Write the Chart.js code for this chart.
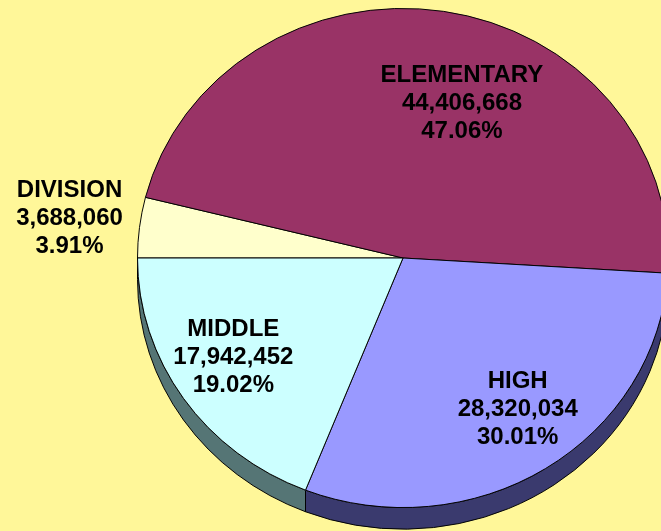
<!DOCTYPE html>
<html>
<head>
<meta charset="utf-8">
<script src="https://cdn.jsdelivr.net/npm/chart.js"></script>
<style>
  html, body { margin: 0; padding: 0; }
  #wrap { position: relative; width: 661px; height: 531px; overflow: hidden; background: #FFF799; }
  #pie { position: absolute; left: 0px; top: -12px; }
</style>
</head>
<body>
<div id="wrap"><canvas id="pie" width="673" height="560"></canvas></div>
<script>
// data
const categories = ['DIVISION', 'ELEMENTARY', 'HIGH', 'MIDDLE'];
const amounts = [3688060, 44406668, 28320034, 17942452];

const topColors = ['#FFFFCC', '#993366', '#9999FF', '#CCFFFF'];
const sideColors = ['#80806A', '#4D1A33', '#3A3A6E', '#557575'];

// squash the pie into an ellipse and give it a little 3D rim
const pie3d = {
    id: 'pie3d',
    beforeDatasetsDraw(chart, args, opts) {
        const ctx = chart.ctx
        const arcs = chart.getDatasetMeta(0).data
        const cx = arcs[0].x, cy = arcs[0].y
        ctx.save()
        ctx.translate(cx, cy)
        ctx.scale(1, opts.squash)
        ctx.translate(-cx, -cy)
        arcs.forEach((arc, i) => {
            for (let k = 0; k < 3; k++) {
                const lo = k * 2 * Math.PI, hi = lo + Math.PI
                const a0 = Math.max(arc.startAngle, lo), a1 = Math.min(arc.endAngle, hi)
                if (a1 <= a0) continue
                ctx.beginPath()
                ctx.arc(cx, cy, arc.outerRadius, a0, a1)
                ctx.arc(cx, cy + opts.depth, arc.outerRadius, a1, a0, true)
                ctx.closePath()
                ctx.fillStyle = sideColors[i]
                ctx.fill()
                ctx.strokeStyle = '#000'
                ctx.lineWidth = 1
                ctx.stroke()
            }
        })
    },
    afterDatasetsDraw(chart) {
        chart.ctx.restore()
    }
}

// name / amount / percent labels
const sliceLabels = {
    id: 'sliceLabels',
    afterDraw(chart, args, opts) {
        const ctx = chart.ctx
        const total = amounts.reduce((a, b) => a + b, 0)
        ctx.save()
        ctx.font = 'bold 24px "Liberation Sans", Arial, sans-serif'
        ctx.fillStyle = '#000'
        ctx.textAlign = 'center'
        ctx.textBaseline = 'middle'
        chart.getDatasetMeta(0).data.forEach((arc, i) => {
            const r = arc.outerRadius
            const x = arc.x + opts.offsets[i][0] * r
            const y = arc.y + opts.offsets[i][1] * r
            const lines = [
                categories[i],
                amounts[i].toLocaleString('en-US'),
                (amounts[i] / total * 100).toFixed(2) + '%'
            ]
            lines.forEach((t, j) => ctx.fillText(t, x, y + (j - 1) * opts.lineHeight))
        })
        ctx.restore()
    }
}

new Chart(document.querySelector('#pie').getContext('2d'), {
    type: 'pie',
    data: {
        labels: categories,
        datasets: [{
            data: amounts,
            backgroundColor: topColors,
            borderColor: '#000',
            borderWidth: 1
        }]
    },
    options: {
        responsive: false,
        animation: false,
        rotation: 270,
        layout: { padding: { left: 137, right: 4, top: 4, bottom: 24 } },
        plugins: {
            legend: { display: false },
            tooltip: { enabled: false },
            pie3d: { squash: 0.94, depth: 23 },
            sliceLabels: {
                lineHeight: 28,
                offsets: [[-1.256, -0.150], [0.222, -0.583], [0.432, 0.571], [-0.639, 0.376]]
            }
        }
    },
    plugins: [pie3d, sliceLabels]
});
</script>
</body>
</html>
